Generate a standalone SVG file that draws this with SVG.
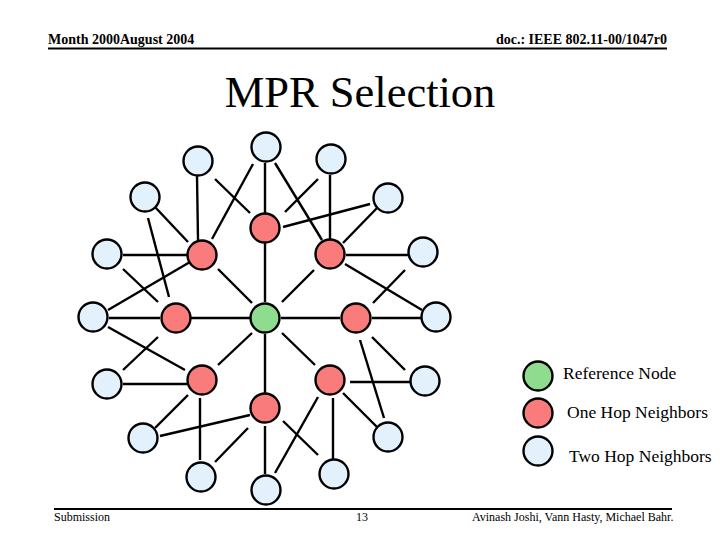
<svg xmlns="http://www.w3.org/2000/svg" width="720" height="540" viewBox="0 0 720 540">
<style>
.n{stroke:#000;stroke-width:2.4}
.ref{fill:#90DC8E}
.one{fill:#F97B7B}
.two{fill:#E2F1FC}
.e line{stroke:#000;stroke-width:2.4}
.hdr{font-family:"Liberation Serif",serif;font-size:14px;font-weight:bold}
.ftr{font-family:"Liberation Serif",serif;font-size:12px}
.lg{font-family:"Liberation Serif",serif;font-size:17.5px}
</style>
<rect width="720" height="540" fill="#fff"/>
<g id="header">
<text class="hdr" x="48" y="44">Month 2000August 2004</text>
<text class="hdr" x="667" y="44" text-anchor="end">doc.: IEEE 802.11-00/1047r0</text>
<line x1="48" y1="48.5" x2="667" y2="48.5" stroke="#000" stroke-width="2"/>
</g>
<text id="title" x="360" y="107" text-anchor="middle" font-family="Liberation Serif,serif" font-size="44.5">MPR Selection</text>
<g id="connectors" class="e">
<line x1="265" y1="243" x2="265" y2="302"/>
<line x1="218" y1="269" x2="252" y2="303"/>
<line x1="282" y1="302" x2="314" y2="270"/>
<line x1="191" y1="318" x2="250" y2="318"/>
<line x1="281" y1="318" x2="340" y2="318"/>
<line x1="218" y1="365" x2="252" y2="333"/>
<line x1="282" y1="333" x2="315" y2="365"/>
<line x1="265" y1="334" x2="265" y2="393"/>
<line x1="197" y1="176" x2="198" y2="240"/>
<line x1="215" y1="179" x2="250" y2="213"/>
<line x1="253" y1="164" x2="212" y2="239"/>
<line x1="265" y1="163" x2="265" y2="213"/>
<line x1="275" y1="163" x2="322" y2="240"/>
<line x1="318" y1="179" x2="285" y2="212"/>
<line x1="330" y1="175" x2="330" y2="239"/>
<line x1="370" y1="204" x2="283" y2="227"/>
<line x1="377" y1="208" x2="343" y2="243"/>
<line x1="155" y1="207" x2="188" y2="242"/>
<line x1="148" y1="218" x2="169" y2="297"/>
<line x1="123" y1="255" x2="187" y2="255"/>
<line x1="123" y1="269" x2="158" y2="302"/>
<line x1="108" y1="310" x2="190" y2="262"/>
<line x1="109" y1="318" x2="160" y2="318"/>
<line x1="108" y1="327" x2="185" y2="370"/>
<line x1="346" y1="255" x2="408" y2="255"/>
<line x1="405" y1="270" x2="373" y2="303"/>
<line x1="345" y1="264" x2="422" y2="310"/>
<line x1="372" y1="318" x2="421" y2="318"/>
<line x1="158" y1="337" x2="123" y2="370"/>
<line x1="123" y1="384" x2="187" y2="384"/>
<line x1="188" y1="395" x2="155" y2="428"/>
<line x1="160" y1="436" x2="250" y2="415"/>
<line x1="200" y1="398" x2="200" y2="460"/>
<line x1="215" y1="462" x2="248" y2="428"/>
<line x1="265" y1="426" x2="265" y2="474"/>
<line x1="275" y1="473" x2="318" y2="397"/>
<line x1="283" y1="421" x2="318" y2="455"/>
<line x1="333" y1="398" x2="333" y2="459"/>
<line x1="372" y1="337" x2="405" y2="370"/>
<line x1="350" y1="382" x2="410" y2="382"/>
<line x1="360" y1="340" x2="384" y2="418"/>
<line x1="343" y1="393" x2="377" y2="427"/>
</g>
<g id="nodes">
<g id="ref"><circle class="n ref" cx="265" cy="318" r="14.5"/></g>
<g id="r-top"><circle class="n one" cx="265" cy="228" r="14.5"/></g>
<g id="r-ul"><circle class="n one" cx="202" cy="255" r="14.5"/></g>
<g id="r-ur"><circle class="n one" cx="330" cy="254" r="14.5"/></g>
<g id="r-l"><circle class="n one" cx="176" cy="318" r="14.5"/></g>
<g id="r-r"><circle class="n one" cx="356" cy="318" r="14.5"/></g>
<g id="r-ll"><circle class="n one" cx="202" cy="380" r="14.5"/></g>
<g id="r-lr"><circle class="n one" cx="330" cy="380" r="14.5"/></g>
<g id="r-b"><circle class="n one" cx="265" cy="408" r="14.5"/></g>
<g id="b1"><circle class="n two" cx="198" cy="161" r="14.5"/></g>
<g id="b2"><circle class="n two" cx="266" cy="147" r="14.5"/></g>
<g id="b3"><circle class="n two" cx="331" cy="159" r="14.5"/></g>
<g id="b4"><circle class="n two" cx="145" cy="197" r="14.5"/></g>
<g id="b5"><circle class="n two" cx="388" cy="198" r="14.5"/></g>
<g id="b6"><circle class="n two" cx="107" cy="254" r="14.5"/></g>
<g id="b7"><circle class="n two" cx="423" cy="252" r="14.5"/></g>
<g id="b8"><circle class="n two" cx="93" cy="317" r="14.5"/></g>
<g id="b9"><circle class="n two" cx="436" cy="317" r="14.5"/></g>
<g id="b10"><circle class="n two" cx="107" cy="384" r="14.5"/></g>
<g id="b11"><circle class="n two" cx="425" cy="381" r="14.5"/></g>
<g id="b12"><circle class="n two" cx="143" cy="438" r="14.5"/></g>
<g id="b13"><circle class="n two" cx="388" cy="437" r="14.5"/></g>
<g id="b14"><circle class="n two" cx="201" cy="477" r="14.5"/></g>
<g id="b15"><circle class="n two" cx="266" cy="490" r="14.5"/></g>
<g id="b16"><circle class="n two" cx="334" cy="474" r="14.5"/></g>
</g>
<g id="legend">
<g id="lg-ref"><circle class="n ref" cx="538" cy="376" r="14.5"/><text class="lg" x="563" y="379">Reference Node</text></g>
<g id="lg-one"><circle class="n one" cx="538" cy="413" r="14.5"/><text class="lg" x="567" y="418">One Hop Neighbors</text></g>
<g id="lg-two"><circle class="n two" cx="538" cy="451" r="14.5"/><text class="lg" x="569" y="462">Two Hop Neighbors</text></g>
</g>
<g id="footer">
<line x1="54" y1="509" x2="672" y2="509" stroke="#000" stroke-width="2"/>
<text class="ftr" x="54" y="521">Submission</text>
<text class="ftr" x="362" y="521" text-anchor="middle">13</text>
<text class="ftr" x="472" y="521">Avinash Joshi, Vann Hasty, Michael Bahr.</text>
</g>
</svg>
